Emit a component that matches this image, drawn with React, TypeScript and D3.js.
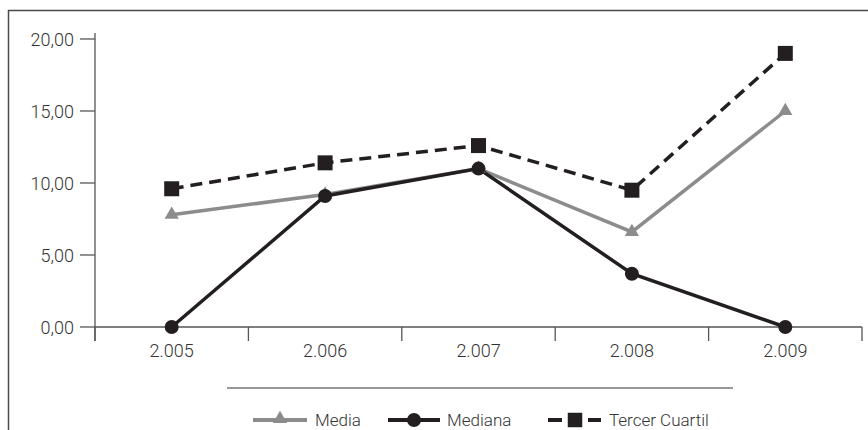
import * as d3 from "d3";

const years = ["2.005", "2.006", "2.007", "2.008", "2.009"];
const media = [7.8, 9.2, 11.0, 6.6, 15.0];
const mediana = [0.0, 9.1, 11.0, 3.7, 0.0];
const tercerCuartil = [9.6, 11.4, 12.6, 9.5, 19.0];
const yTicks = [0, 5, 10, 15, 20];

const W = 868;
const H = 430;
const FONT = "Roboto, 'Open Sans', sans-serif";
const GRAY = "#8c8c8c";
const BLACK = "#231f20";

const fmt = (v: number) => v.toFixed(2).replace(".", ",");

export default function App() {
  const x = d3.scaleBand<string>().domain(years).range([95, 862]);
  const y = d3.scaleLinear().domain([0, 20]).range([327, 39]);
  const cx = (i: number) => (x(years[i]) as number) + x.bandwidth() / 2;

  const line = d3
    .line<number>()
    .x((_, i) => cx(i))
    .y((d) => y(d));

  const tri = d3.symbol().type(d3.symbolTriangle).size(88)() as string;
  const sq = d3.symbol().type(d3.symbolSquare).size(225)() as string;
  const legSq = d3.symbol().type(d3.symbolSquare).size(210)() as string;

  const tickXs = [...years.map((yr) => x(yr) as number), 862];

  return (
    <svg
      width={W}
      height={H}
      style={{ position: "absolute", left: 0, top: 0, background: "#fff" }}
      fontFamily={FONT}
    >
      {/* frame */}
      <line x1={8} x2={W} y1={10.5} y2={10.5} stroke="#4a4a4a" strokeWidth={1.5} />
      <line x1={8.5} x2={8.5} y1={10} y2={H} stroke="#4a4a4a" strokeWidth={1.5} />

      {/* y axis */}
      <line x1={95} x2={95} y1={33} y2={341} stroke="#555" strokeWidth={1.3} />
      {yTicks.map((t) => (
        <g key={t}>
          <line x1={80} x2={95} y1={y(t)} y2={y(t)} stroke="#555" strokeWidth={1.3} />
          <text
            x={74}
            y={y(t) + 7}
            textAnchor="end"
            fontSize={18}
            fontWeight={300}
            fill="#333"
          >
            {fmt(t)}
          </text>
        </g>
      ))}

      {/* x axis */}
      <line x1={95} x2={862} y1={y(0)} y2={y(0)} stroke="#555" strokeWidth={1.3} />
      {tickXs.map((tx, i) => (
        <line key={i} x1={tx} x2={tx} y1={y(0)} y2={341} stroke="#555" strokeWidth={1.3} />
      ))}
      {years.map((yr, i) => (
        <text
          key={yr}
          x={cx(i)}
          y={357}
          textAnchor="middle"
          fontSize={18}
          fontWeight={300}
          fill="#333"
        >
          {yr}
        </text>
      ))}

      {/* series */}
      <path d={line(media) as string} fill="none" stroke={GRAY} strokeWidth={3.5} />
      <path d={line(mediana) as string} fill="none" stroke={BLACK} strokeWidth={3.5} />
      <path
        d={line(tercerCuartil) as string}
        fill="none"
        stroke={BLACK}
        strokeWidth={3.5}
        strokeDasharray="12,7"
      />
      {media.map((v, i) => (
        <path key={"m" + i} d={tri} transform={`translate(${cx(i)},${y(v)})`} fill={GRAY} />
      ))}
      {mediana.map((v, i) => (
        <circle key={"d" + i} cx={cx(i)} cy={y(v)} r={7} fill={BLACK} />
      ))}
      {tercerCuartil.map((v, i) => (
        <path key={"t" + i} d={sq} transform={`translate(${cx(i)},${y(v)})`} fill={BLACK} />
      ))}

      {/* legend */}
      <line x1={227} x2={733} y1={388} y2={388} stroke="#333" strokeWidth={1.2} />
      <g fontSize={17} fontWeight={300} fill="#333">
        <line x1={253} x2={307} y1={420} y2={420} stroke={GRAY} strokeWidth={4} />
        <path d={tri} transform="translate(280,419)" fill={GRAY} />
        <text x={315} y={426}>Media</text>

        <line x1={388} x2={440} y1={420} y2={420} stroke={BLACK} strokeWidth={4} />
        <circle cx={414} cy={420} r={7} fill={BLACK} />
        <text x={447} y={426}>Mediana</text>

        <line x1={548} x2={562} y1={420} y2={420} stroke={BLACK} strokeWidth={4} />
        <path d={legSq} transform="translate(575,420)" fill={BLACK} />
        <line x1={588} x2={601} y1={420} y2={420} stroke={BLACK} strokeWidth={4} />
        <text x={609} y={426}>Tercer Cuartil</text>
      </g>
    </svg>
  );
}
